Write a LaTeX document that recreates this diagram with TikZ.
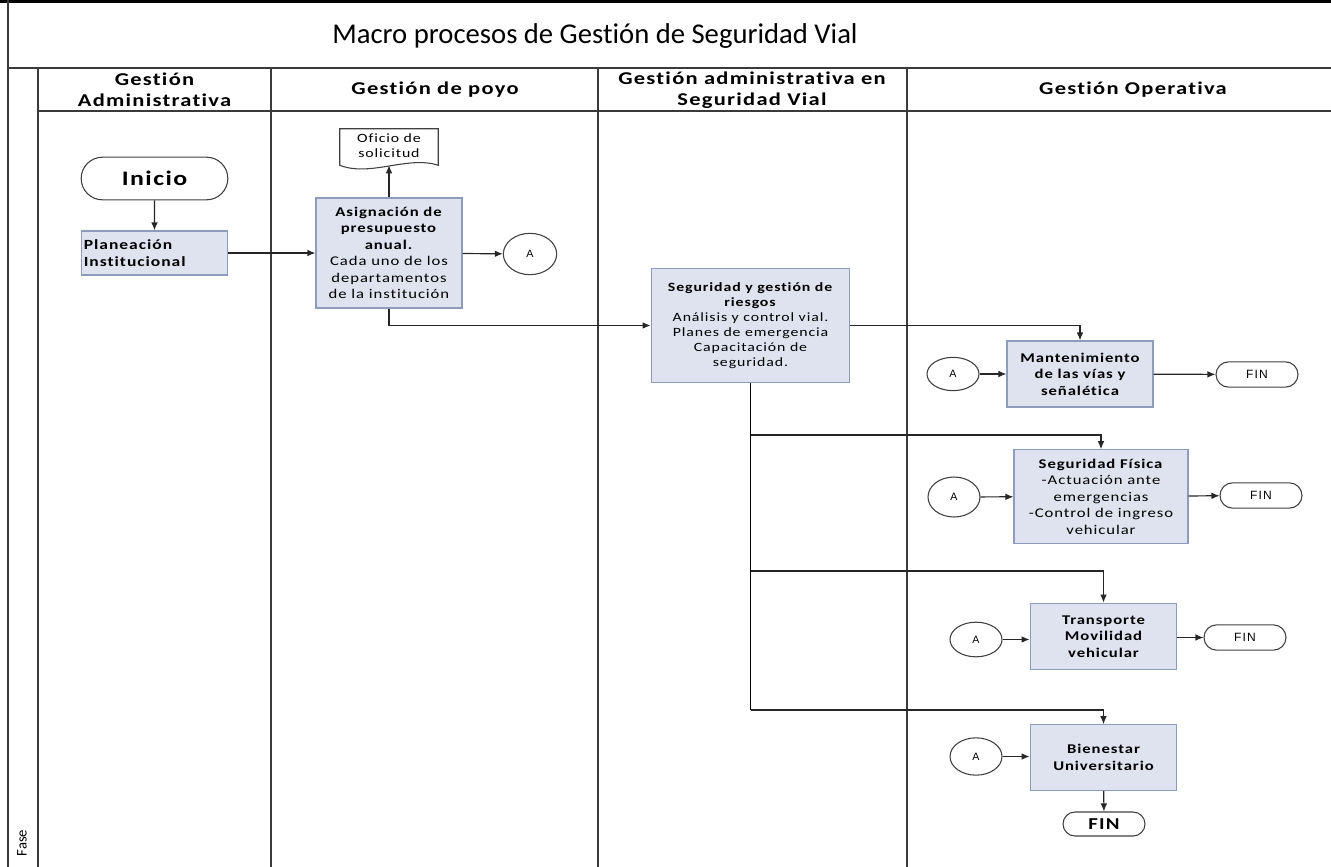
\documentclass[tikz,border=0pt]{standalone}
\usepackage{fontspec}
\setmainfont{Carlito}[FakeStretch=1.25, LetterSpace=7, Ligatures=NoCommon]
\newfontfamily\plainfont{Carlito}[Ligatures=NoCommon]
\newfontfamily\arialf{Liberation Sans}[LetterSpace=10]
\usetikzlibrary{arrows.meta,shapes.misc,shapes.geometric,calc}
\definecolor{boxfill}{HTML}{DFE3EF}
\definecolor{boxline}{HTML}{8E9CBC}
\definecolor{laneline}{HTML}{3A3A3A}
\begin{document}
\begin{tikzpicture}[x=0.75pt,y=-0.75pt,
 procbox/.style={draw=boxline, fill=boxfill, line width=0.9pt, align=center, inner sep=1pt, font=\fontsize{10}{12.4}\selectfont},
 term/.style={draw=black!75, rounded rectangle, fill=white, line width=0.8pt, inner sep=0pt},
 conn/.style={ellipse, draw=black!75, fill=white, line width=0.8pt, inner sep=0pt, font=\arialf\fontsize{8}{9}\selectfont},
 arr/.style={-{Latex[length=6pt,width=5pt]}, line width=0.9pt, draw=black!85},
 lane/.style={draw=laneline, line width=1.1pt},
 hdr/.style={font=\bfseries\fontsize{13.5}{15.8}\selectfont, align=center}
]
\useasboundingbox (0,0) rectangle (1331,867);
% frame and lanes
\draw[line width=3pt] (0,1.5) -- (1331,1.5);
\draw[lane] (8,0) -- (8,867);
\draw[lane] (8,68) -- (1331,68);
\draw[lane] (38,111) -- (1331,111);
\draw[lane] (38,68) -- (38,867);
\draw[lane] (271,68) -- (271,867);
\draw[lane] (598,68) -- (598,867);
\draw[lane] (907,68) -- (907,867);
% title
\node (title) at (595,36) {\plainfont\fontsize{21.5}{25}\selectfont Macro procesos de Gestión de Seguridad Vial};
% headers
\node[hdr] (h1) at (154.5,90) {Gestión\\Administrativa};
\node[hdr] (h2) at (435,90) {Gestión de poyo};
\node[hdr] (h3) at (752,90) {Gestión administrativa en\\Seguridad Vial};
\node[hdr] (h4) at (1133,90) {Gestión Operativa};
\node[rotate=90, font=\plainfont\fontsize{11}{12}\selectfont] (fase) at (22,843) {Fase};
% nodes
\node[term, minimum width=110pt, minimum height=32pt, font=\bfseries\fontsize{15.5}{18}\selectfont] (inicio) at (154.5,178.5) {Inicio};
\node[procbox, minimum width=110pt, minimum height=33pt, text width=106pt, align=left, font=\bfseries\fontsize{10.5}{12.8}\selectfont] (plan) at (154.5,253) {Planeación\\Institucional};
\node[minimum width=73.5pt, minimum height=27pt, inner sep=0pt] (ofi) at (389,147) {};
\draw[draw=black!75, line width=0.8pt, fill=white] (ofi.south west) -- (ofi.north west) -- (ofi.north east) -- (ofi.south east) .. controls +(-30,-10) and +(30,12) .. (ofi.south west) -- cycle;
\node[align=center, font=\fontsize{9.5}{11.2}\selectfont] (ofitext) at ([yshift=1pt]ofi.center) {Oficio de\\solicitud};
\node[procbox, minimum width=109.5pt, minimum height=82.5pt] (asig) at (389,253) {\textbf{Asignación de}\\\textbf{presupuesto}\\\textbf{anual.}\\Cada uno de los\\departamentos\\de la institución};
\node[conn, minimum width=40pt, minimum height=31pt] (A1) at (530,254) {A};
\node[procbox, minimum width=149pt, minimum height=85pt, font=\fontsize{9.5}{11.3}\selectfont] (seg) at (750.5,325.5) {\textbf{Seguridad y gestión de}\\\textbf{riesgos}\\Análisis y control vial.\\Planes de emergencia\\Capacitación de\\seguridad.};
\node[procbox, minimum width=109.5pt, minimum height=49.5pt, font=\bfseries\fontsize{10}{12.4}\selectfont] (mant) at (1080,374) {Mantenimiento\\de las vías y\\señalética};
\node[conn, minimum width=39pt, minimum height=25pt] (A2) at (953,374) {A};
\node[term, minimum width=61.5pt, minimum height=19pt, font=\arialf\fontsize{9}{10}\selectfont] (fin1) at (1257,374.5) {FIN};
\node[procbox, minimum width=130.5pt, minimum height=70pt] (fis) at (1101,496.5) {\textbf{Seguridad Física}\\-Actuación ante\\emergencias\\-Control de ingreso\\vehicular};
\node[conn, minimum width=39pt, minimum height=30pt] (A3) at (954,497) {A};
\node[term, minimum width=61.5pt, minimum height=19pt, font=\arialf\fontsize{9}{10}\selectfont] (fin2) at (1261,495.5) {FIN};
\node[procbox, minimum width=110pt, minimum height=50pt, font=\bfseries\fontsize{10}{12.4}\selectfont] (trans) at (1103.5,636.5) {Transporte\\Movilidad\\vehicular};
\node[conn, minimum width=39pt, minimum height=26pt] (A4) at (976,639.5) {A};
\node[term, minimum width=61.5pt, minimum height=19pt, font=\arialf\fontsize{9}{10}\selectfont] (fin3) at (1245,637.5) {FIN};
\node[procbox, minimum width=110pt, minimum height=49pt, font=\bfseries\fontsize{10}{12.4}\selectfont] (bien) at (1103.5,757.5) {Bienestar\\Universitario};
\node[conn, minimum width=39pt, minimum height=28pt] (A5) at (976,756.5) {A};
\node[term, minimum width=61.5pt, minimum height=18pt, font=\bfseries\fontsize{12.5}{14}\selectfont] (fin4) at (1104,824) {FIN};
% connectors
\draw[arr] (inicio) -- (plan);
\draw[arr] (plan) -- (asig);
\draw[arr] (asig.north) -- (asig.north |- ofi.south);
\draw[arr] (asig) -- (A1);
\draw[arr] (asig.south) |- (seg.west);
\draw[arr] (seg.east) -| (mant.north);
\coordinate (b1) at (seg.south |- 0,435);
\coordinate (b2) at (seg.south |- 0,571);
\coordinate (b3) at (seg.south |- 0,710);
\draw[line width=1.3pt] (seg.south) -- (b3);
\draw[arr] (b1) -| (fis.north);
\draw[arr] (b2) -| (trans.north);
\draw[arr] (b3) -| (bien.north);
\draw[arr] (A2) -- (mant);
\draw[arr] (mant) -- (fin1);
\draw[arr] (A3) -- (fis);
\draw[arr] (fis) -- (fin2);
\draw[arr] (A4) -- (trans.west |- A4);
\draw[arr] (trans.east |- fin3) -- (fin3);
\draw[arr] (A5) -- (bien.west |- A5);
\draw[arr] (bien) -- (fin4);
\end{tikzpicture}
\end{document}
